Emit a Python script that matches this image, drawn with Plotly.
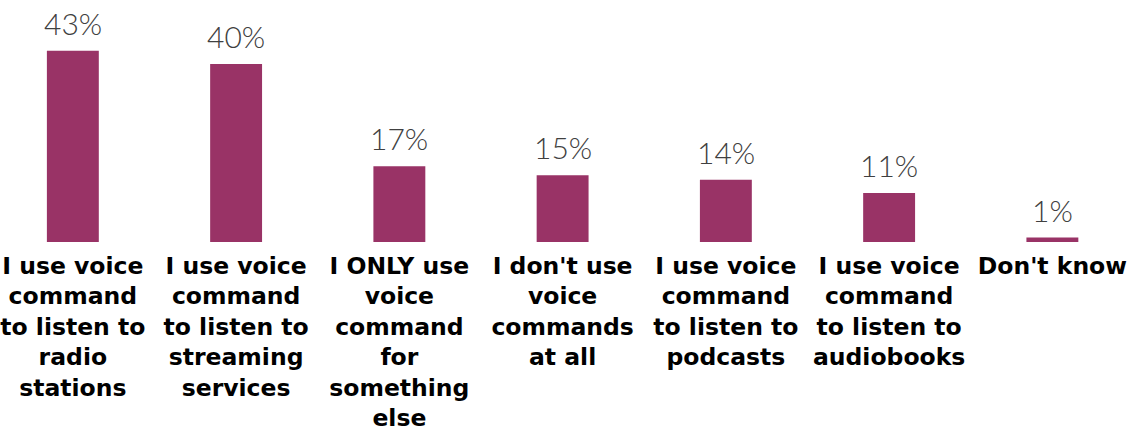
import plotly.graph_objects as go

# Survey answers and their shares (%)
categories = [
    "I use voice<br>command<br>to listen to<br>radio<br>stations",
    "I use voice<br>command<br>to listen to<br>streaming<br>services",
    "I ONLY use<br>voice<br>command<br>for<br>something<br>else",
    "I don't use<br>voice<br>commands<br>at all",
    "I use voice<br>command<br>to listen to<br>podcasts",
    "I use voice<br>command<br>to listen to<br>audiobooks",
    "Don't know",
]
values = [43, 40, 17, 15, 14, 11, 1]
value_labels = [f"{v}%" for v in values]

BAR_COLOR = "#993366"
positions = list(range(len(categories)))

fig = go.Figure(
    go.Bar(
        x=positions,
        y=values,
        marker=dict(color=BAR_COLOR, line=dict(width=0)),
        width=0.318,
        hoverinfo="skip",
    )
)

# Percentage labels above each bar
for xpos, v, label in zip(positions, values, value_labels):
    fig.add_annotation(
        x=xpos,
        y=v,
        text=label,
        showarrow=False,
        yanchor="bottom",
        yshift=9,
        borderpad=0,
        font=dict(family="Lato", size=30, color="#404040", weight=300),
    )

fig.update_layout(
    width=1127,
    height=435,
    margin=dict(l=0, r=0, t=0, b=193),
    plot_bgcolor="white",
    paper_bgcolor="white",
    showlegend=False,
)

fig.update_xaxes(
    range=[-0.434, 6.451],
    tickmode="array",
    tickvals=positions,
    ticktext=categories,
    tickangle=0,
    tickfont=dict(family="DejaVu Sans", size=23.5, color="#000000", weight="bold"),
    ticklabelstandoff=7,
    ticklabeloverflow="allow",
    showline=False,
    showgrid=False,
    zeroline=False,
    ticks="",
)
fig.update_yaxes(
    range=[0, 54.4],
    visible=False,
    showgrid=False,
    zeroline=False,
)

fig.write_html("out.html")
